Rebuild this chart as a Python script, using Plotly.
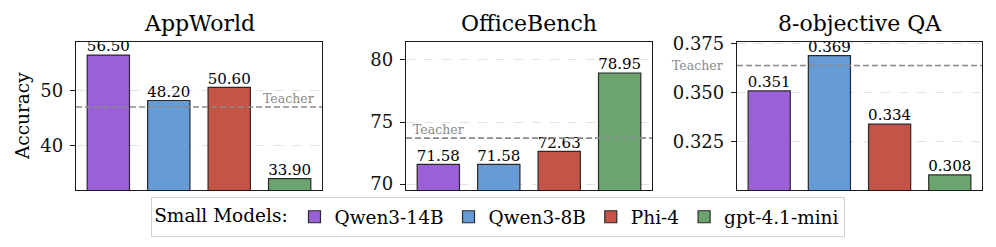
import plotly.graph_objects as go

models = ["Qwen3-14B", "Qwen3-8B", "Phi-4", "gpt-4.1-mini"]
colors = ["#9B5FD6", "#679BD6", "#C45446", "#6BA46F"]
titles = ["AppWorld", "OfficeBench", "8-objective QA"]
appworld = [56.50, 48.20, 50.60, 33.90]
officebench = [71.58, 71.58, 72.63, 78.95]
qa = [0.351, 0.369, 0.334, 0.308]
teacher = [47.0, 73.7, 0.364]
label_fmt = ["{:.2f}", "{:.2f}", "{:.3f}"]
yranges = [[31.83, 58.9], [69.52, 81.45], [0.3003, 0.376]]
dticks = [10, 5, 0.025]
tickformats = ["d", "d", ".3f"]

series = [appworld, officebench, qa]
W, H = 996, 247
xdoms = [(76 / W, 322 / W), (406 / W, 652 / W), (737 / W, 982 / W)]
ydom = ((H - 190) / H, (H - 42) / H)
FONT = "DejaVu Serif"

fig = go.Figure()
layout = dict(
    width=W, height=H,
    margin=dict(l=0, r=0, t=0, b=0, autoexpand=False),
    paper_bgcolor="white", plot_bgcolor="white",
    barmode="overlay",
    font=dict(family=FONT, color="black"),
    showlegend=True,
)
annotations = []
shapes = []
for p in range(3):
    xa = "x" if p == 0 else f"x{p+1}"
    ya = "y" if p == 0 else f"y{p+1}"
    vals = series[p]
    for i, m in enumerate(models):
        fig.add_trace(go.Bar(
            x=[m], y=[vals[i]], xaxis=xa, yaxis=ya, width=0.7,
            marker=dict(color=colors[i], line=dict(color="#2a2a2a", width=1.2)),
            name=m, legendgroup=m, showlegend=(p == 0), hoverinfo="skip",
        ))
    fig.add_trace(go.Scatter(
        x=models, y=vals, xaxis=xa, yaxis=ya, mode="text",
        text=[label_fmt[p].format(v) for v in vals],
        textposition="top center", textfont=dict(size=15, family=FONT, color="black"),
        showlegend=False, cliponaxis=True, hoverinfo="skip",
    ))
    key = "" if p == 0 else str(p + 1)
    layout["xaxis" + key] = dict(
        domain=list(xdoms[p]), anchor=ya, type="category",
        categoryorder="array", categoryarray=models,
        range=[-0.535, 3.535], showticklabels=False, ticks="",
        showline=True, mirror=True, linecolor="#1a1a1a", linewidth=1.3,
        showgrid=False, zeroline=False,
    )
    layout["yaxis" + key] = dict(
        domain=list(ydom), anchor=xa, range=yranges[p], dtick=dticks[p],
        tick0=0, tickformat=tickformats[p], ticks="outside", ticklen=5,
        tickwidth=1.2, tickcolor="#1a1a1a", ticklabelstandoff=3,
        tickfont=dict(size=18, family=FONT, color="#111"),
        showline=True, mirror=True, linecolor="#1a1a1a", linewidth=1.3,
        showgrid=True, gridcolor="#e2e2e2", gridwidth=1, griddash="dash",
        zeroline=False,
    )
    shapes.append(dict(
        type="line", xref=f"{xa} domain", yref=ya, x0=0, x1=1,
        y0=teacher[p], y1=teacher[p],
        line=dict(color="#8a8a8a", width=1.6, dash="6px,3px"), layer="above",
    ))
    annotations.append(dict(
        text=titles[p], xref="paper", yref="paper",
        x=(xdoms[p][0] + xdoms[p][1]) / 2, y=(H - 23.5) / H,
        xanchor="center", yanchor="middle", showarrow=False,
        font=dict(size=22, family=FONT, color="black"),
    ))

tfont = dict(size=12.5, family=FONT, color="#8a8a8a")
annotations.append(dict(text="Teacher", xref="x domain", yref="y", x=0.975, y=teacher[0],
                        xanchor="right", yanchor="bottom", showarrow=False, yshift=-1,
                        font=tfont))
annotations.append(dict(text="Teacher", xref="x2 domain", yref="y2", x=0.02, y=teacher[1],
                        xanchor="left", yanchor="bottom", showarrow=False, yshift=-1,
                        font=tfont))
annotations.append(dict(text="Teacher", xref="paper", yref="y3", x=670 / W, y=teacher[2],
                        xanchor="left", yanchor="middle", showarrow=False,
                        font=tfont))
annotations.append(dict(text="Accuracy", xref="paper", yref="paper", x=22 / W,
                        y=(H - 116) / H, xanchor="center", yanchor="middle",
                        textangle=-90, showarrow=False,
                        font=dict(size=18.5, family=FONT, color="black")))

layout["annotations"] = annotations
layout["shapes"] = shapes
layout["legend"] = dict(
    orientation="h", x=0.5, xanchor="center", y=(H - 217) / H, yanchor="middle",
    bgcolor="white", bordercolor="#d0d0d0", borderwidth=1.2,
    font=dict(size=18.5, family=FONT, color="black"),
    title=dict(text="Small Models:", side="left", font=dict(size=18.5, family=FONT)),
    itemwidth=30, tracegroupgap=0,
)
fig.update_layout(**layout)
fig.write_html("out.html", config={"displayModeBar": False},
               post_script="document.body.style.margin='0';")
